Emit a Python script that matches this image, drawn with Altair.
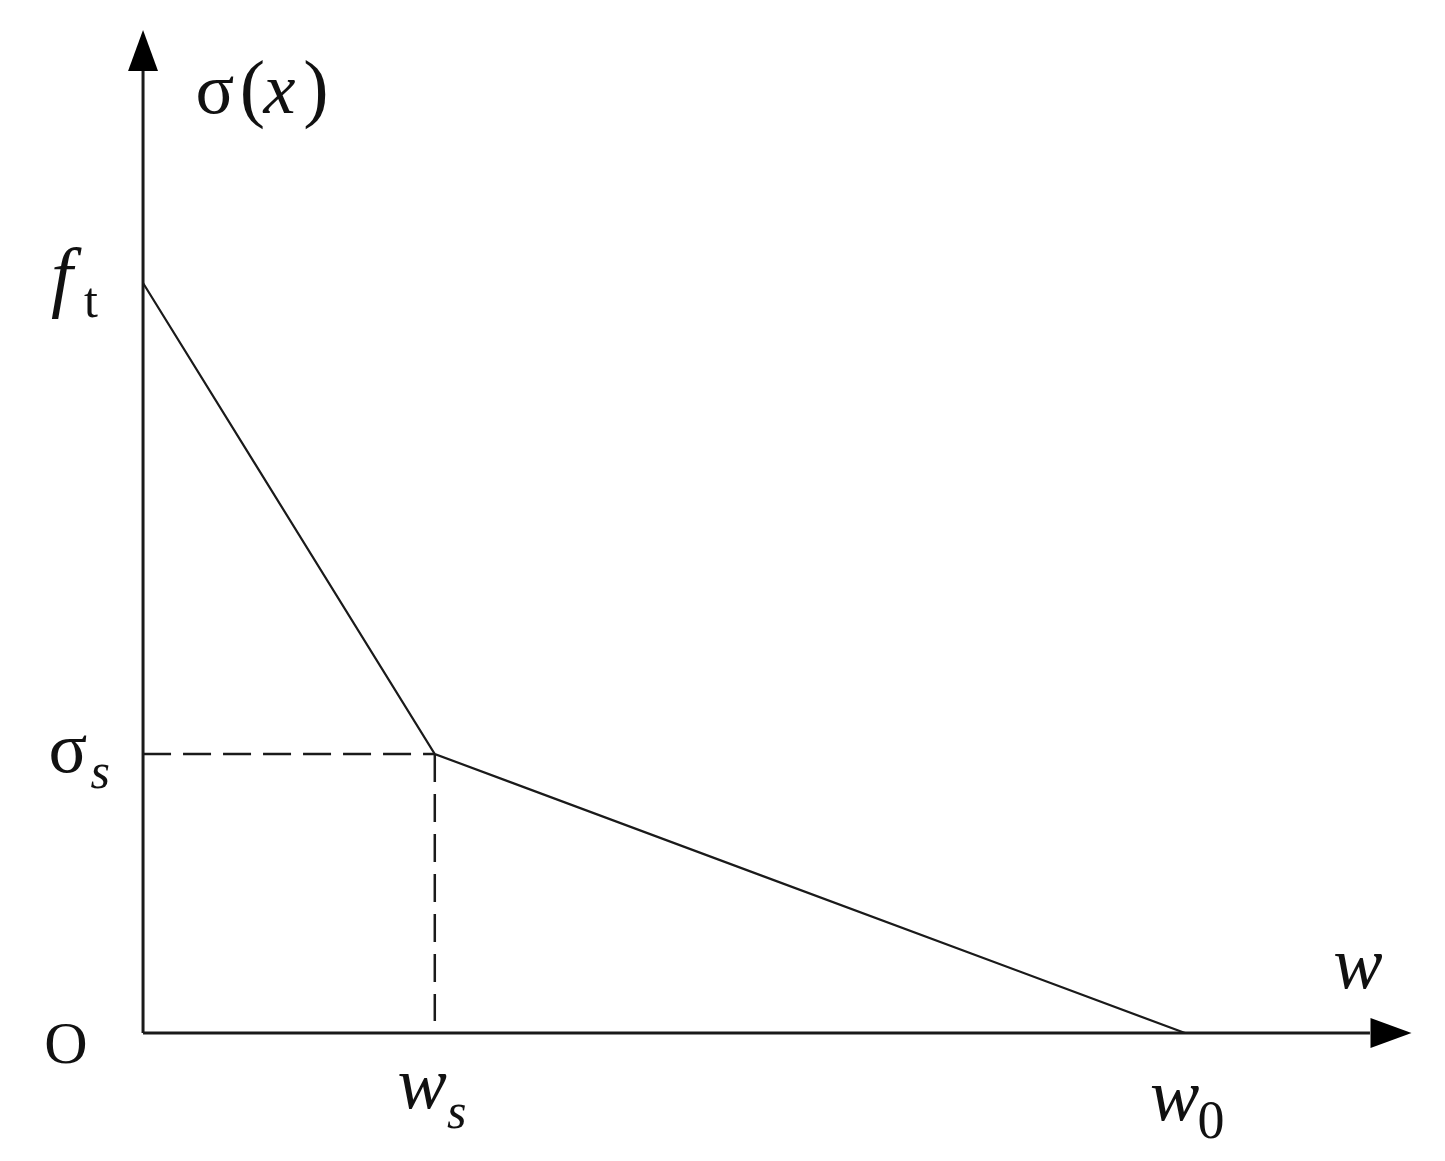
import altair as alt
import pandas as pd

# Curve (bilinear softening law), in normalised units
w_vals = [0.0, 0.28, 1.0]          # 0, w_s, w_0
sigma_vals = [1.0, 0.372, 0.0]     # f_t, sigma_s, 0

w_s = w_vals[1]
sigma_s = sigma_vals[1]

# axis extents (data units)
x_axis_end = 1.1775
y_axis_end = 1.2827
x_arrow_c = 1.1977
y_arrow_c = 1.31

X_DOMAIN = [-0.1296, 1.2332]
Y_DOMAIN = [-0.1573, 1.3667]

FONT = "Liberation Serif"
INK = "#1a1a1a"

xs = alt.Scale(domain=X_DOMAIN, nice=False, zero=False)
ys = alt.Scale(domain=Y_DOMAIN, nice=False, zero=False)


def X(f="x"):
    return alt.X(f"{f}:Q", scale=xs, axis=None)


def Y(f="y"):
    return alt.Y(f"{f}:Q", scale=ys, axis=None)


curve_df = pd.DataFrame({"x": w_vals, "y": sigma_vals})
curve = alt.Chart(curve_df).mark_line(color=INK, strokeWidth=2.2).encode(
    x=X(), y=Y(), order="x:Q")

dash_df = pd.DataFrame({
    "x": [0.0, w_s], "x2": [w_s, w_s],
    "y": [sigma_s, sigma_s], "y2": [sigma_s, 0.016],
})
dashes = alt.Chart(dash_df).mark_rule(
    color=INK, strokeWidth=2.5, strokeDash=[28, 12]).encode(
    x=X(), x2="x2:Q", y=Y(), y2="y2:Q")

axes_df = pd.DataFrame({
    "x": [0.0, 0.0], "x2": [x_axis_end, 0.0],
    "y": [0.0, 0.0], "y2": [0.0, y_axis_end],
})
axes = alt.Chart(axes_df).mark_rule(color=INK, strokeWidth=3).encode(
    x=X(), x2="x2:Q", y=Y(), y2="y2:Q")

up_arrow = alt.Chart(pd.DataFrame({"x": [0.0], "y": [y_arrow_c]})).mark_point(
    shape="M0,-1L0.73,1L-0.73,1Z", filled=True, opacity=1, color="#000",
    size=1681, strokeWidth=0).encode(x=X(), y=Y())
right_arrow = alt.Chart(pd.DataFrame({"x": [x_arrow_c], "y": [0.0]})).mark_point(
    shape="M1,0L-1,-0.73L-1,0.73Z", filled=True, opacity=1, color="#000",
    size=1681, strokeWidth=0).encode(x=X(), y=Y())

# Labels: (text, x, y, size, italic)
label_text = ["σ", "(", "x", ")", "f", "t", "σ", "s", "O", "w", "s", "w", "0", "w"]
label_x = [0.069, 0.105, 0.131, 0.166, -0.078, -0.050, -0.072, -0.041,
           -0.074, 0.268, 0.301, 0.990, 1.025, 1.166]
label_y = [1.227, 1.227, 1.227, 1.227, 0.975, 0.955, 0.348, 0.327,
           -0.04, -0.10, -0.127, -0.116, -0.14, 0.06]
label_size = [72, 76, 72, 76, 78, 50, 72, 50, 60, 74, 50, 74, 54, 74]
label_italic = [False, False, True, False, True, False, False, True,
                False, True, True, True, False, True]

layers = [axes, dashes, curve, up_arrow, right_arrow]
for t, lx, ly, sz, it in zip(label_text, label_x, label_y, label_size, label_italic):
    kw = dict(font=FONT, fontSize=sz, align="center", baseline="alphabetic",
              color="#111")
    if it:
        kw["fontStyle"] = "italic"
    layers.append(
        alt.Chart(pd.DataFrame({"x": [lx], "y": [ly], "t": [t]}))
        .mark_text(**kw).encode(x=X(), y=Y(), text="t:N"))

chart = alt.layer(*layers).properties(
    width=1420, height=1143, padding=0, autosize="none",
    background="white",
).configure_view(stroke=None)

chart.save("out.html", embed_options={"renderer": "svg", "actions": False})
